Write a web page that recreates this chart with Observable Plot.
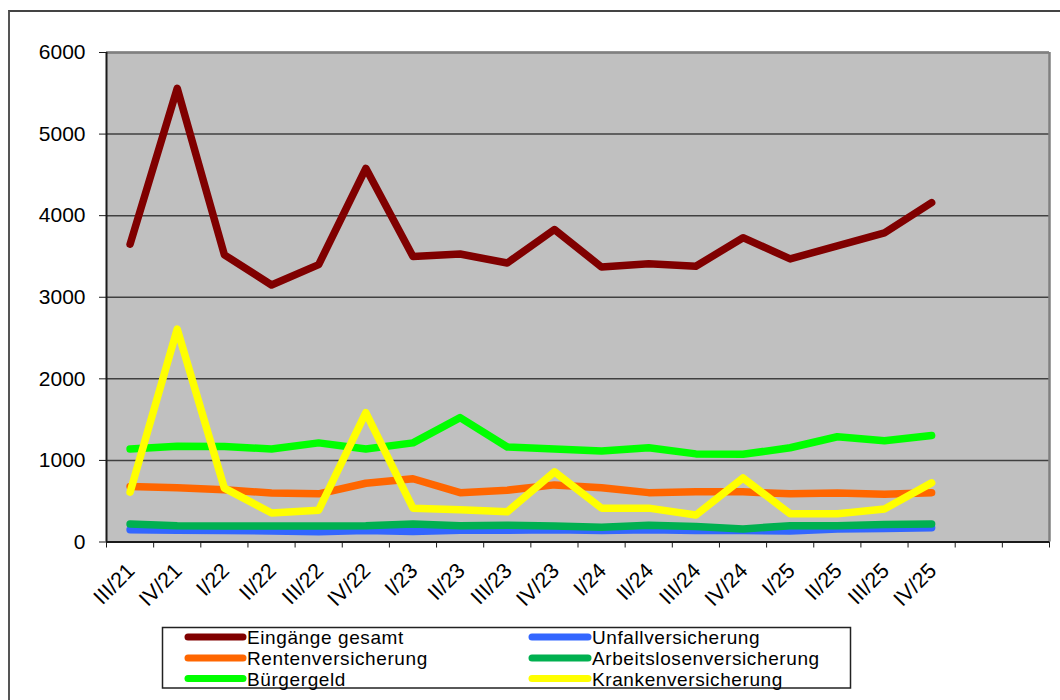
<!DOCTYPE html>
<html><head><meta charset="utf-8">
<script src="https://cdn.jsdelivr.net/npm/d3@7"></script>
<script src="https://cdn.jsdelivr.net/npm/@observablehq/plot@0.6"></script>
<style>
body{margin:0;background:#fff;font-family:"Liberation Sans",Arial,sans-serif;}
#wrap{position:relative;width:1060px;height:700px;overflow:hidden;}
#chart{position:absolute;left:0;top:0;}
#frame{position:absolute;left:8px;top:10px;width:1100px;height:800px;border-left:2px solid #555;border-top:2px solid #444;pointer-events:none;}
#legend{position:absolute;left:0;top:0;}
</style></head><body>
<div id="wrap"><div id="frame"></div><div id="chart"></div></div>
<script>
const categories = ["III/21","IV/21","I/22","II/22","III/22","IV/22","I/23","II/23","III/23","IV/23","I/24","II/24","III/24","IV/24","I/25","II/25","III/25","IV/25"];
const eingaenge   = [3650,5560,3520,3150,3400,4580,3500,3530,3420,3830,3370,3410,3380,3730,3470,3630,3790,4160];
const renten      = [680,665,640,600,590,720,775,605,635,700,665,605,615,615,590,600,585,605];
const buergergeld = [1140,1175,1170,1140,1215,1140,1215,1525,1165,1140,1115,1155,1080,1075,1155,1290,1240,1305];
const unfall      = [150,145,140,135,125,140,130,145,145,150,140,150,140,140,135,160,165,175];
const arbeitslosen= [220,200,195,195,195,200,220,200,205,195,180,205,190,160,200,200,215,220];
const kranken     = [610,2610,660,355,390,1585,415,395,370,860,415,415,330,785,345,345,405,725];
const seriesNames = ["Eingänge gesamt","Rentenversicherung","Bürgergeld","Unfallversicherung","Arbeitslosenversicherung","Krankenversicherung"];
const seriesColors = ["#800000","#FF6600","#00FF00","#3366FF","#00B050","#FFFF00"];
const yTicks = [0,1000,2000,3000,4000,5000,6000];
const nSlots = 20;

const seriesValues = [eingaenge, renten, buergergeld, unfall, arbeitslosen, kranken];
const data = seriesNames.flatMap((name, s) => seriesValues[s].map((v, i) => ({series: name, x: i + 0.5, value: v})));

const font = '"Liberation Sans", Arial, sans-serif';
const plot = Plot.plot({
  width: 1060, height: 700,
  marginLeft: 106, marginRight: 11, marginTop: 52, marginBottom: 158.5,
  style: {fontFamily: font, fontSize: "21px", color: "#000", background: "transparent"},
  x: {type: "linear", domain: [0, nSlots], axis: null},
  y: {domain: [0, 6000], axis: null},
  color: {domain: seriesNames, range: seriesColors},
  marks: [
    Plot.frame({fill: "#C0C0C0"}),
    Plot.gridY(yTicks, {stroke: "#404040", strokeOpacity: 1, strokeWidth: 1.5}),
    Plot.ruleX([nSlots], {stroke: "#808080", strokeWidth: 2.5}),
    Plot.ruleY([6000], {stroke: "#808080", strokeWidth: 2.5}),
    Plot.ruleX([0], {stroke: "#1a1a1a", strokeWidth: 2}),
    Plot.ruleY([0], {stroke: "#1a1a1a", strokeWidth: 2}),
    Plot.axisY(yTicks, {tickSize: 7, tickPadding: 14, fontSize: 21, label: null, tickFormat: d => String(d), stroke: "#1a1a1a"}),
    Plot.axisX(d3.range(nSlots + 1), {tickSize: 6, label: null, tickFormat: () => "", stroke: "#1a1a1a"}),
    Plot.line(data, {x: "x", y: "value", z: "series", stroke: "series", strokeWidth: 7.5, strokeLinecap: "round", strokeLinejoin: "round"}),
    Plot.text(categories, {x: (d, i) => i + 0.5, y: 0, text: d => d, rotate: -45, textAnchor: "end", lineAnchor: "bottom", dx: 6, dy: 30, fontSize: 21.5, fill: "#000"})
  ]
});
document.getElementById("chart").appendChild(plot);

// legend overlay
const leg = d3.select("#wrap").append("svg").attr("id", "legend").attr("width", 1060).attr("height", 700);
leg.append("rect").attr("x", 162.5).attr("y", 627.5).attr("width", 688).attr("height", 60.5)
  .attr("fill", "#fff").attr("stroke", "#222").attr("stroke-width", 1.5);
const cols = [{x1: 188, x2: 243, tx: 247}, {x1: 532, x2: 588, tx: 592}];
const rows = [637, 658, 678.5];
seriesNames.forEach((name, k) => {
  const c = cols[Math.floor(k / 3)], ry = rows[k % 3];
  leg.append("line").attr("x1", c.x1).attr("x2", c.x2).attr("y1", ry).attr("y2", ry)
    .attr("stroke", seriesColors[k]).attr("stroke-width", 7).attr("stroke-linecap", "round");
  leg.append("text").attr("x", c.tx).attr("y", ry + 7).attr("font-family", font).attr("font-size", 19)
    .attr("letter-spacing", "0.6px").attr("fill", "#000").text(name);
});
</script>
</body></html>
